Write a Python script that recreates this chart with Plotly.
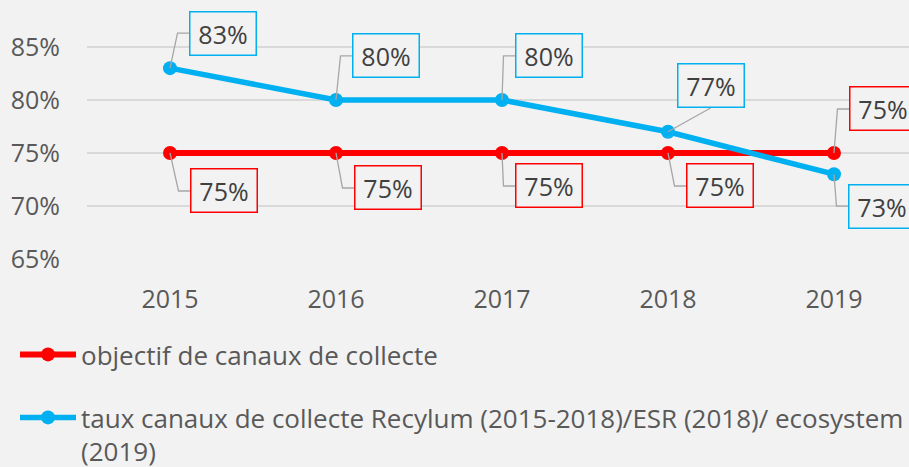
import plotly.graph_objects as go

years = ["2015", "2016", "2017", "2018", "2019"]
objectif = [75, 75, 75, 75, 75]
taux = [83, 80, 80, 77, 73]
y_ticks = [65, 70, 75, 80, 85]
name_obj = "objectif de canaux de collecte"
name_taux = "taux canaux de collecte Recylum (2015-2018)/ESR (2018)/ ecosystem<br>(2019)"

# label box centre offsets from the point (pixels, screen: +x right, +y down)
obj_off = [(54, 38), (52, 35), (47, 33), (52, 33), (49, -44)]
taux_off = [(53, -35), (50, -44), (47, -44), (43, -46), (48, 32)]
# leader style per label: "elbow" or "straight"
obj_lead = ["elbow"] * 5
taux_lead = ["elbow", "elbow", "elbow", "straight", "elbow"]

RED = "#FF0000"
BLUE = "#00B0F0"
GREY = "#A6A6A6"
FONT = "Open Sans"
BOX_W, BOX_H = 67, 44
xi = list(range(len(years)))

fig = go.Figure()
fig.add_trace(go.Scatter(x=xi, y=objectif, mode="lines+markers", name=name_obj,
                         line=dict(color=RED, width=6), marker=dict(size=14, color=RED),
                         legend="legend"))
fig.add_trace(go.Scatter(x=xi, y=taux, mode="lines+markers", name=name_taux,
                         line=dict(color=BLUE, width=5.5), marker=dict(size=14, color=BLUE),
                         legend="legend2"))

ann = []
shapes = []
for vals, offs, leads, col in [(objectif, obj_off, obj_lead, RED),
                               (taux, taux_off, taux_lead, BLUE)]:
    for i, (v, (dx, dy), lead) in enumerate(zip(vals, offs, leads)):
        ann.append(dict(x=i, y=v, xref="x", yref="y", text=f"{v}%",
                        showarrow=False, xshift=dx, yshift=-dy,
                        font=dict(family=FONT, size=25, color="#404040"),
                        bordercolor=col, borderwidth=1.5, borderpad=2,
                        bgcolor="#F2F2F2", width=BOX_W - 6, height=BOX_H - 6))
        # leader line in pixel coordinates relative to the point (+y up)
        uy = -dy
        if lead == "elbow":
            left = dx - BOX_W / 2
            path = f"M0,0 L{left - 12},{uy} L{left},{uy}"
        else:
            edge = uy - BOX_H / 2 if uy > 0 else uy + BOX_H / 2
            path = f"M0,0 L{dx},{edge}"
        shapes.append(dict(type="path", xref="x", yref="y",
                           xsizemode="pixel", ysizemode="pixel",
                           xanchor=i, yanchor=v, path=path,
                           line=dict(color=GREY, width=1.3), layer="above"))

legend_common = dict(xref="container", yref="container", x=15 / 909,
                     xanchor="left", yanchor="top", bgcolor="rgba(0,0,0,0)",
                     font=dict(family=FONT, size=26, color="#595959"),
                     itemwidth=56, valign="top")

fig.update_layout(
    width=909, height=467,
    margin=dict(l=87, r=0, t=0, b=208, autoexpand=False),
    paper_bgcolor="#F2F2F2", plot_bgcolor="#F2F2F2",
    font=dict(family=FONT, size=25, color="#595959"),
    xaxis=dict(range=[-0.5, 4.452], tickmode="array", tickvals=xi, ticktext=years,
               showgrid=False, zeroline=False, showline=False, ticks="", tickangle=0,
               ticklabelstandoff=23, tickfont=dict(size=25, color="#595959")),
    yaxis=dict(range=[65, 89.43], tickmode="array", tickvals=y_ticks,
               ticktext=[f"{t}%" for t in y_ticks],
               showgrid=True, gridcolor="#D9D9D9", gridwidth=1.5, zeroline=False,
               showline=False, ticks="", ticklabelstandoff=26,
               tickfont=dict(size=25, color="#595959")),
    legend=dict(y=1 - 331 / 467, **legend_common),
    legend2=dict(y=1 - 394 / 467, **legend_common),
    annotations=ann,
    shapes=shapes,
    showlegend=True,
)

fig.write_html("out.html", config={"displayModeBar": False},
               post_script="document.body.style.margin='0';document.body.style.overflow='hidden';")
